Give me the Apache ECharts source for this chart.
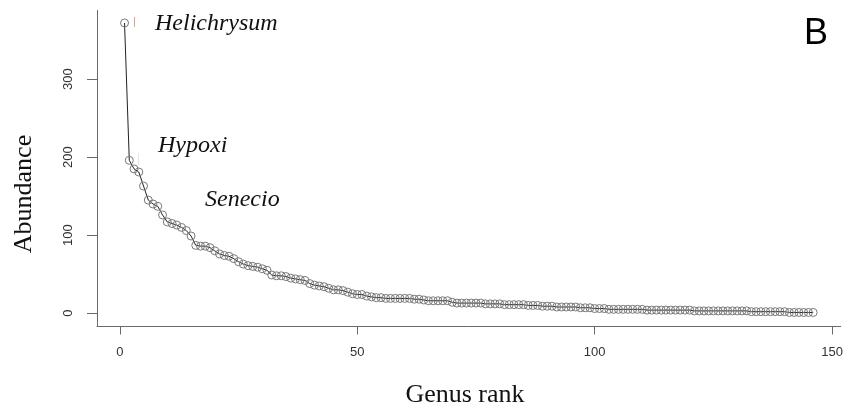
<!DOCTYPE html>
<html>
<head>
<meta charset="utf-8">
<script src="https://cdn.jsdelivr.net/npm/echarts@6/dist/echarts.min.js"></script>
<style>
  html, body { margin: 0; padding: 0; background: #fff; }
  #chart { width: 846px; height: 411px; }
</style>
</head>
<body>
<div id="chart"></div>
<script>
// Abundance of each genus, ordered by rank (1 = most abundant)
var abundance = [
  372, 196, 185, 181, 163, 145, 140, 137, 126, 117,
  115, 113, 110, 106, 99, 87, 86, 86, 84, 80,
  76, 74, 73, 70, 66, 63, 61, 60, 59, 57,
  55, 49, 48, 48, 47, 45, 44, 43, 42, 38,
  36, 35, 34, 32, 30, 30, 29, 27, 25, 24,
  24, 22, 21, 20,
  20, 19, 19, 19, 19, 19, 19, 18, 18,
  17, 16, 16, 16, 16, 16,
  14, 13, 13, 13, 13, 13, 13,
  12, 12, 12, 12, 11, 11, 11, 11, 11, 10, 10, 10,
  9, 9, 9, 8, 8, 8, 8, 8, 7, 7, 7, 6, 6, 6,
  5, 5, 5, 5, 5, 5, 5, 5,
  4, 4, 4, 4, 4, 4, 4, 4, 4, 4,
  3, 3, 3, 3, 3, 3, 3, 3, 3, 3, 3, 3,
  2, 2, 2, 2, 2, 2, 2, 2,
  1, 1, 1, 1, 1, 1
];
var ranks = abundance.map(function (v, i) { return i + 1; });
var xTicks = [0, 50, 100, 150];
var yTicks = [0, 100, 200, 300];
var xTitle = 'Genus rank';
var yTitle = 'Abundance';
var panelLetter = 'B';
var genusLabels = ['Helichrysum', 'Hypoxi', 'Senecio'];

var seriesData = ranks.map(function (r, i) { return [r, abundance[i]]; });

var chart = echarts.init(document.getElementById('chart'), null, { renderer: 'canvas' });
var axisColor = '#6a6a6a';
var labelFont = '"Liberation Sans", Arial, sans-serif';
var serifFont = '"Liberation Serif", "Times New Roman", serif';

chart.setOption({
  animation: false,
  backgroundColor: '#ffffff',
  grid: { left: 97, right: 5, top: 10.5, bottom: 84.5, containLabel: false },
  xAxis: {
    type: 'value',
    min: -4.8,
    max: 151.8,
    axisLine: { show: true, onZero: false, lineStyle: { color: axisColor, width: 1 } },
    axisTick: { show: true, length: 8, customValues: xTicks, lineStyle: { color: axisColor } },
    axisLabel: { customValues: xTicks, fontSize: 13, color: '#333', fontFamily: labelFont, margin: 19 },
    splitLine: { show: false }
  },
  yAxis: {
    type: 'value',
    min: -17,
    max: 388,
    axisLine: { show: true, onZero: false, lineStyle: { color: axisColor, width: 1 } },
    axisTick: { show: true, length: 10, customValues: yTicks, lineStyle: { color: axisColor } },
    axisLabel: { customValues: yTicks, rotate: 90, fontSize: 13, color: '#333', fontFamily: labelFont, margin: 22 },
    splitLine: { show: false }
  },
  series: [{
    type: 'line',
    data: seriesData,
    symbol: 'circle',
    symbolSize: 8,
    showAllSymbol: true,
    lineStyle: { color: '#222', width: 1 },
    itemStyle: { color: 'rgba(255,255,255,0)', borderColor: '#7a7a7a', borderWidth: 1 },
    emphasis: { disabled: true }
  }],
  graphic: [
    { type: 'text', x: 24, y: 194, rotation: Math.PI / 2,
      style: { text: yTitle, font: '26px ' + serifFont, fill: '#111', align: 'center', verticalAlign: 'middle' } },
    { type: 'text', x: 465, y: 395,
      style: { text: xTitle, font: '26px ' + serifFont, fill: '#111', align: 'center', verticalAlign: 'middle' } },
    { type: 'text', x: 816, y: 34,
      style: { text: panelLetter, font: '36px ' + labelFont, fill: '#000', align: 'center', verticalAlign: 'middle' } },
    { type: 'text', x: 155, y: 24,
      style: { text: genusLabels[0], font: 'italic 24px ' + serifFont, fill: '#111', align: 'left', verticalAlign: 'middle' } },
    { type: 'text', x: 158, y: 146,
      style: { text: genusLabels[1], font: 'italic 24px ' + serifFont, fill: '#111', align: 'left', verticalAlign: 'middle' } },
    { type: 'text', x: 205, y: 200,
      style: { text: genusLabels[2], font: 'italic 24px ' + serifFont, fill: '#111', align: 'left', verticalAlign: 'middle' } },
    { type: 'line', shape: { x1: 134.5, y1: 17, x2: 134.5, y2: 27 }, style: { stroke: '#e2a27c', lineWidth: 1 } },
    { type: 'line', shape: { x1: 138.5, y1: 153, x2: 138.5, y2: 165 }, style: { stroke: '#f6e3c4', lineWidth: 1 } }
  ]
});
</script>
</body>
</html>
